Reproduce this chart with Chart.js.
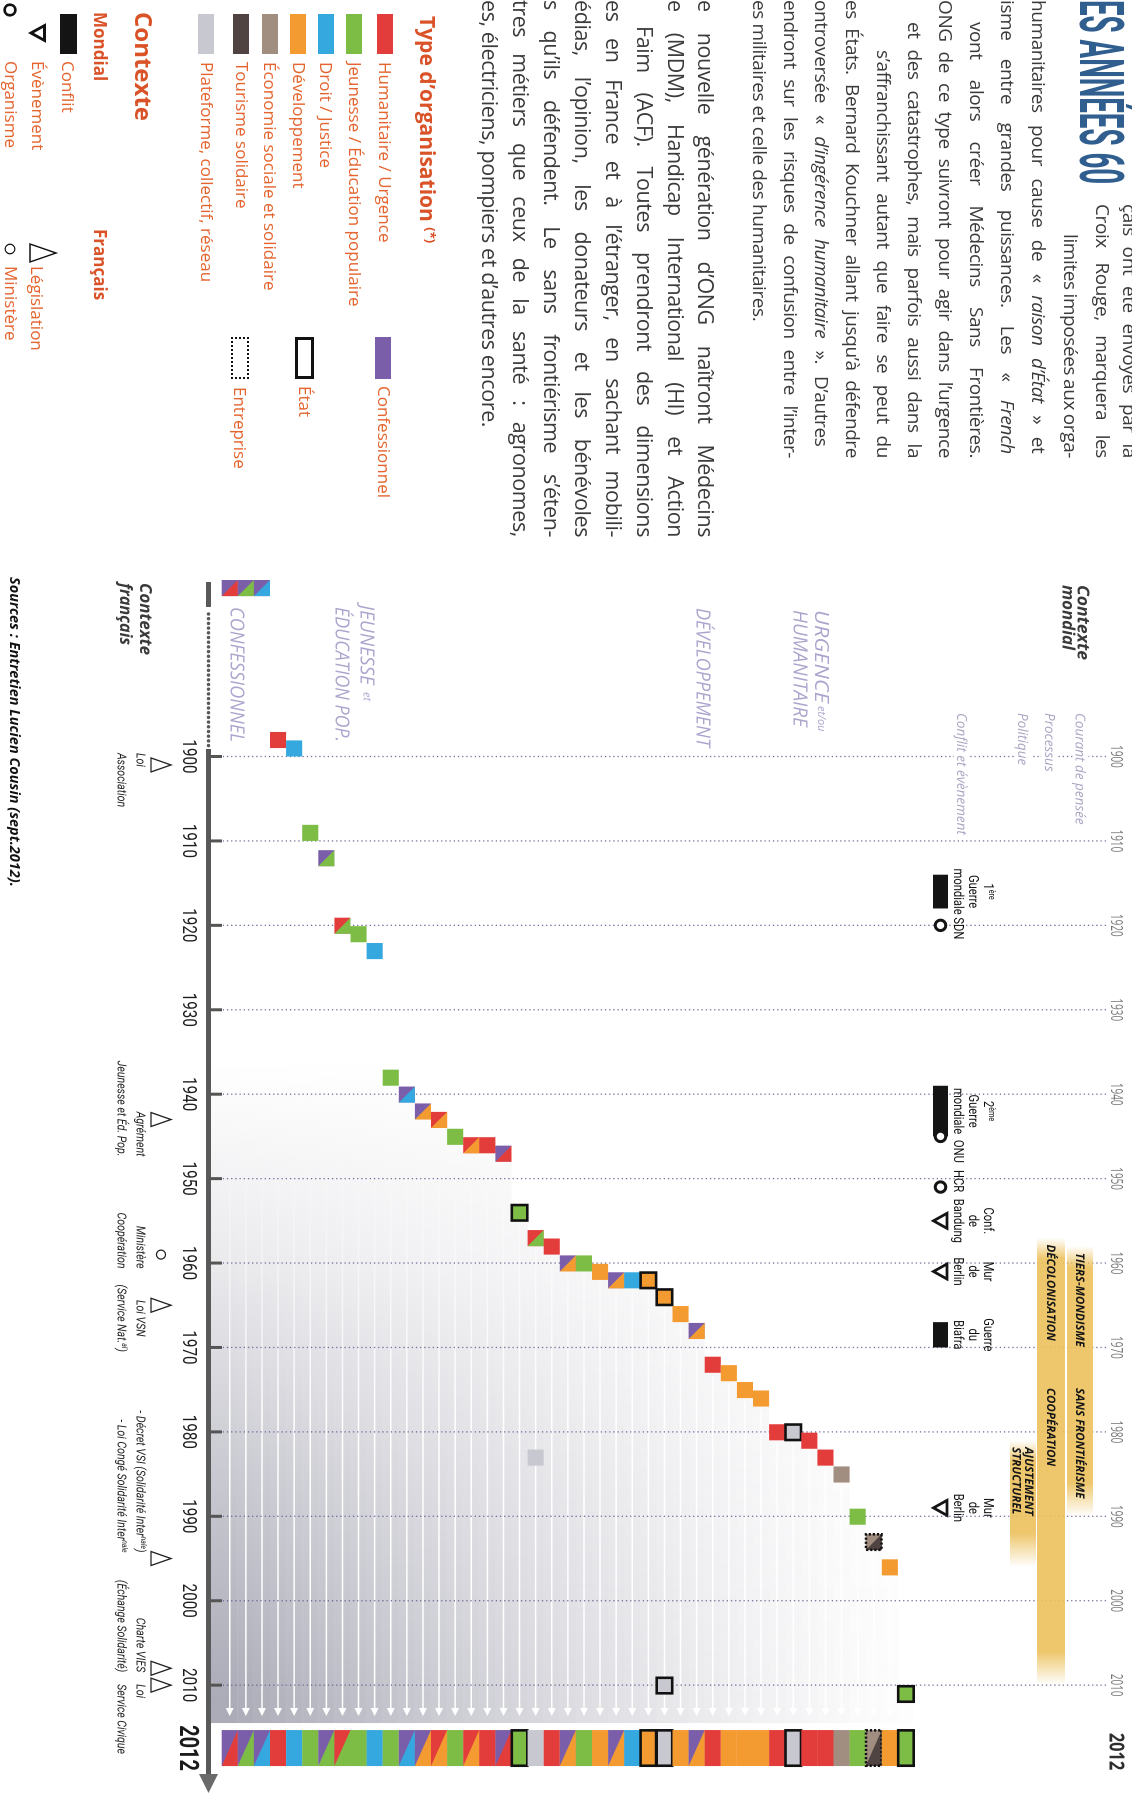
<!DOCTYPE html>
<html lang="fr"><head><meta charset="utf-8"><title>ONG françaises</title>
<script src="https://cdn.jsdelivr.net/npm/chart.js"></script>
<style>
html,body{margin:0;padding:0;background:#fff;}
body{width:1132px;height:1793px;overflow:hidden;position:relative;}
#page{position:absolute;left:0;top:0;width:1793px;height:1132px;transform-origin:0 0;transform:translate(1132px,0) rotate(90deg);background:#fff;overflow:hidden;font-family:"Open Sans",sans-serif;}
#chart{position:absolute;left:0;top:0;width:1793px;height:1132px;}
#layer{position:absolute;left:0;top:0;width:1793px;height:1132px;}
#layer div{position:absolute;white-space:nowrap;line-height:1;}
#layer svg{position:absolute;overflow:visible;}
</style></head>
<body><div id="page"><canvas id="chart" width="1793" height="1132"></canvas><div id="layer"></div></div>
<script>
// ================= DATA =================
const decadeTicks = [1900,1910,1920,1930,1940,1950,1960,1970,1980,1990,2000,2010];
const summaryYear = 2012;

// organisations (first three: before 1900), in row order
const orgYears = [1881,1881,1881,1899,1900,1910,1913,1921,1922,1924,1939,1941,1943,1944,1946,1947,1947,1948,1955,1958,1959,1961,1961,1962,1963,1963,1963,1965,1967,1969,1973,1974,1976,1977,1981,1981,1982,1984,1986,1991,1994,1997,2012];
const orgTypeA = ['conf','conf','conf','hum','droit','jeun','conf','hum','jeun','droit','jeun','conf','conf','hum','jeun','hum','hum','conf','jeun','hum','hum','conf','jeun','dev','conf','droit','dev','dev','dev','conf','hum','dev','dev','dev','hum','plat','hum','hum','eco','jeun','eco','dev','jeun'];
const orgTypeB = ['hum','jeun','droit',null,null,null,'jeun','jeun',null,null,null,'droit','dev','dev',null,'dev',null,'hum',null,'jeun',null,'dev',null,null,'dev',null,null,null,null,'dev',null,null,null,null,null,null,null,null,null,null,'tour',null,null];
const orgStatus = ['','','','','','','','','','','','','','','','','','','etat','','','','','','','','etat','etat','','','','','','','','etat','','','','','entreprise','','etat'];

// later changes of type
const changeIndex = [19, 27];
const changeYears = [1984, 2011];
const changeType = ['plat', 'plat'];
const changeStatus = ['', 'etat'];

// world context
const conflictLabels = ['1^ère^|Guerre|mondiale', '2^ème^|Guerre|mondiale', 'Guerre|du|Biafra'];
const conflictStart = [1914, 1939, 1967];
const conflictEnd = [1918, 1945, 1970];
const organismLabels = ['SDN', 'ONU', 'HCR'];
const organismYears = [1920, 1945, 1951];
const eventLabels = ['Conf.|de|Bandung', 'Mur|de|Berlin', 'Mur|de|Berlin'];
const eventYears = [1955, 1961, 1989];

const courantNames = ['TIERS-MONDISME', 'SANS FRONTIÉRISME'];
const courantStart = [1958, 1974];
const courantEnd = [1974, 1990];
const processusNames = ['DÉCOLONISATION', 'COOPÉRATION'];
const processusStart = [1957, 1974];
const processusEnd = [1974, 2010];
const politiqueNames = ['AJUSTEMENT|STRUCTUREL'];
const politiqueStart = [1981];
const politiqueEnd = [1996];

// French context
const frLabels = ['Loi|Association', 'Agrément|Jeunesse et Éd. Pop.', 'Ministère|Coopération', 'Loi VSN|(Service Nat.^al^)', '- Décret VSI (Solidarité Inter^nale^)|- Loi Congé Solidarité Inter^nale^', 'Charte VIES|(Échange Solidarité)', 'Loi|Service Civique'];
const frYears = [1901, 1943, 1959, 1965, 1995, 2008, 2010];
const frKinds = ['leg', 'leg', 'min', 'leg', 'leg', 'leg', 'leg'];

// legend
const typeKeys = ['hum','jeun','droit','dev','eco','tour','plat'];
const typeLabels = ['Humanitaire / Urgence','Jeunesse / Éducation populaire','Droit / Justice','Développement','Économie sociale et solidaire','Tourisme solidaire','Plateforme, collectif, réseau'];

// ================= STYLE / LAYOUT =================
const COL = {conf:'#7b5ea9',hum:'#e33d3b',jeun:'#7dbd45',droit:'#35a8df',dev:'#f39b30',eco:'#a28d81',tour:'#4f4441',plat:'#c8c8d0'};
const frAlign = ['left','right','right','center','right','right','left'];
const frDx = [-12, 37, 14, 13, -6, 4, -1];
const orgLabelDx = [3, 15, -6];
const AXIS_Y = 923.5, EVENT_Y = 191.5, FR_Y = 971;
const OS = '"Open Sans"';

function rich(ctx, str, x, y, o) {
  const size = o.size || 13, fam = o.family || 'Roboto', st = o.style || 'normal', wt = o.weight || 'normal';
  const parts = String(str).split('^');
  const fN = `${st} ${wt} ${size}px ${fam}`, fS = `${st} ${wt} ${Math.round(size * 0.62)}px ${fam}`;
  let w = 0;
  const ws = parts.map((p, i) => { ctx.font = i % 2 ? fS : fN; const m = ctx.measureText(p).width; w += m; return m; });
  let sx = o.sx || 1; if (o.fit) sx = o.fit / w;
  ctx.save(); ctx.translate(x, y); ctx.scale(sx, 1);
  let cx = o.align === 'center' ? -w / 2 : o.align === 'right' ? -w : 0;
  ctx.fillStyle = o.color || '#111'; ctx.textAlign = 'left'; ctx.textBaseline = 'alphabetic';
  parts.forEach((p, i) => { ctx.font = i % 2 ? fS : fN; ctx.fillText(p, cx, i % 2 ? -size * 0.36 : 0); cx += ws[i]; });
  ctx.restore();
  return w * sx;
}

function square(ctx, x0, y0, x1, y1, a, b, status) {
  ctx.fillStyle = COL[a]; ctx.fillRect(x0, y0, x1 - x0, y1 - y0);
  if (b) { ctx.fillStyle = COL[b]; ctx.beginPath(); ctx.moveTo(x0, y0); ctx.lineTo(x1, y0); ctx.lineTo(x1, y1); ctx.closePath(); ctx.fill(); }
  if (status) {
    ctx.save(); ctx.strokeStyle = '#111'; ctx.lineWidth = 2.6;
    if (status === 'entreprise') ctx.setLineDash([2.2, 1.9]);
    ctx.strokeRect(x0 + 0.3, y0 + 0.3, x1 - x0 - 0.6, y1 - y0 - 0.6);
    ctx.restore();
  }
}

const timeline = {
  id: 'timeline',
  beforeDatasetsDraw(chart) {
    const ctx = chart.ctx, xs = chart.scales.x, ys = chart.scales.y;
    const px = v => xs.getPixelForValue(v), py = v => ys.getPixelForValue(v);
    const half = Math.abs(py(0) - py(1)) / 2;
    const endX = px(summaryYear);

    // --- grey shading under the staircase ---
    const shadeEnd = endX + 21, g0 = px(1936);
    const fr = v => (px(v) - g0) / (endX - g0);
    orgYears.forEach((yr, i) => {
      const yc = py(i - 3);
      const top = yc - half, bot = i === 0 ? AXIS_Y - 2 : yc + half;
      const a = Math.max(0.02, 0.78 * Math.pow(Math.max(0, 1 - i / 45), 1.35));
      const gr = ctx.createLinearGradient(g0, 0, endX, 0);
      gr.addColorStop(0, 'rgba(148,148,164,0)');
      gr.addColorStop(fr(1960), `rgba(148,148,164,${(a * 0.25).toFixed(3)})`);
      gr.addColorStop(fr(1985), `rgba(148,148,164,${(a * 0.65).toFixed(3)})`);
      gr.addColorStop(1, `rgba(148,148,164,${a.toFixed(3)})`);
      ctx.fillStyle = gr;
      const s = px(yr);
      ctx.fillRect(s, top, shadeEnd - s, bot - top);
    });
    // white arrows (fading in)
    const tip = endX + 14;
    const wg = ctx.createLinearGradient(px(1945), 0, px(1978), 0);
    wg.addColorStop(0, 'rgba(255,255,255,0)');
    wg.addColorStop(1, 'rgba(255,255,255,1)');
    ctx.save(); ctx.strokeStyle = wg; ctx.fillStyle = '#fff'; ctx.lineWidth = 1.5;
    orgYears.forEach((yr, i) => {
      const yc = py(i - 3), s = px(yr) + 3;
      if (tip - s < 20) return;
      ctx.beginPath(); ctx.moveTo(s, yc); ctx.lineTo(tip - 6, yc); ctx.stroke();
      ctx.beginPath(); ctx.moveTo(tip, yc); ctx.lineTo(tip - 8, yc - 4); ctx.lineTo(tip - 8, yc + 4); ctx.closePath(); ctx.fill();
    });
    ctx.restore();

    // --- dotted grid ---
    ctx.save(); ctx.strokeStyle = 'rgba(100,95,145,0.9)'; ctx.lineWidth = 1.3; ctx.setLineDash([1.3, 2.9]);
    decadeTicks.forEach(d => { const x = px(d); ctx.beginPath(); ctx.moveTo(x, 26); ctx.lineTo(x, 909); ctx.stroke(); });
    ctx.restore();

    // --- bands (courants, processus, politique) ---
    function band(names, starts, ends, y0, y1) {
      const S = Math.min(...starts), E = Math.max(...ends), xS = px(S), xE = px(E);
      const gr = ctx.createLinearGradient(xS, 0, xE, 0);
      gr.addColorStop(0, 'rgba(236,193,92,0)');
      gr.addColorStop((px(S + 2.5) - xS) / (xE - xS), 'rgba(236,193,92,0.9)');
      gr.addColorStop((px(E - 4) - xS) / (xE - xS), 'rgba(236,193,92,0.9)');
      gr.addColorStop(1, 'rgba(236,193,92,0)');
      ctx.fillStyle = gr; ctx.fillRect(xS, y0, xE - xS, y1 - y0);
      names.forEach((n, i) => {
        const lines = n.split('|'), yc = (y0 + y1) / 2;
        lines.forEach((ln, j) => {
          const yy = yc + (j - (lines.length - 1) / 2) * 12.5;
          rich(ctx, ln, px(starts[i] + 0.8), yy + 4.2, {size: 11.5, family: OS, style: 'italic', weight: 'bold', color: '#161616'});
        });
      });
    }
    band(courantNames, courantStart, courantEnd, 39, 65);
    band(processusNames, processusStart, processusEnd, 67, 95);
    band(politiqueNames, politiqueStart, politiqueEnd, 96, 122);

    // --- axis ---
    ctx.save();
    ctx.strokeStyle = '#595959'; ctx.lineWidth = 5;
    ctx.beginPath(); ctx.moveTo(582, AXIS_Y); ctx.lineTo(607, AXIS_Y); ctx.stroke();
    ctx.fillStyle = '#595959';
    for (let x = 614; x < 746; x += 4.7) { ctx.beginPath(); ctx.arc(x, AXIS_Y, 1.7, 0, Math.PI * 2); ctx.fill(); }
    ctx.beginPath(); ctx.moveTo(749, AXIS_Y); ctx.lineTo(1775, AXIS_Y); ctx.stroke();
    ctx.fillStyle = '#6a6a6a';
    ctx.beginPath(); ctx.moveTo(1774, AXIS_Y - 9.5); ctx.lineTo(1793, AXIS_Y); ctx.lineTo(1774, AXIS_Y + 9.5); ctx.closePath(); ctx.fill();
    ctx.strokeStyle = '#555'; ctx.lineWidth = 3;
    decadeTicks.forEach(d => { const x = px(d); ctx.beginPath(); ctx.moveTo(x, 910); ctx.lineTo(x, 922); ctx.stroke(); });
    ctx.restore();
    decadeTicks.forEach(d => {
      rich(ctx, String(d), px(d), 949, {size: 19, family: 'Roboto', sx: 0.8, align: 'center', color: '#1d1d1d'});
      rich(ctx, String(d), px(d), 21, {size: 16, family: OS, sx: 0.62, align: 'center', color: '#777'});
    });
    rich(ctx, String(summaryYear), endX + 46, 952, {size: 27, family: 'Roboto', weight: 'bold', sx: 0.74, align: 'center', color: '#1a1a1a'});
    rich(ctx, String(summaryYear), endX + 49.5, 22.5, {size: 21, family: OS, weight: 'bold', sx: 0.78, align: 'center', color: '#2e2e2e'});

    // --- context row labels ---
    const subC = '#a8a4c2';
    [['Courant de pensée', 51.5], ['Processus', 82], ['Politique', 109], ['Conflit et évènement', 170]].forEach(([t, y]) => {
      ctx.font = `italic 13.5px ${OS}`; const w = ctx.measureText(t).width;
      ctx.fillStyle = '#fff'; ctx.fillRect(711, y - 8, w + 4, 16);
      rich(ctx, t, 713, y + 4.8, {size: 13.5, family: OS, style: 'italic', color: subC});
    });
    rich(ctx, 'Contexte', 585, 54.5, {size: 17, family: OS, style: 'italic', weight: 'bold', fit: 75, color: '#3a3a3a'});
    rich(ctx, 'mondial', 585, 69.5, {size: 17, family: OS, style: 'italic', weight: 'bold', fit: 65, color: '#3a3a3a'});
    rich(ctx, 'Contexte', 583, 992, {size: 17, family: OS, style: 'italic', weight: 'bold', fit: 72, color: '#3a3a3a'});
    rich(ctx, 'français', 583, 1012, {size: 17, family: OS, style: 'italic', weight: 'bold', fit: 62, color: '#3a3a3a'});

    // category labels
    const catC = '#aaa5cd';
    const cat = (t, x, yc, w) => rich(ctx, t, x, yc + 6.8, {size: 19, family: OS, style: 'italic', color: catC, fit: w});
    cat('URGENCE', 610, 310, 93); rich(ctx, 'et/ou', 706, 314, {size: 11, family: OS, style: 'italic', color: catC});
    cat('HUMANITAIRE', 610, 331.5, 117);
    cat('DÉVELOPPEMENT', 608, 428.5, 139);
    cat('JEUNESSE', 605, 764.5, 80); rich(ctx, 'et', 692, 768.5, {size: 11, family: OS, style: 'italic', color: catC});
    cat('ÉDUCATION POP.', 607, 789.5, 135);
    cat('CONFESSIONNEL', 607, 894.5, 135);

    // --- organisations: staircase ---
    orgYears.forEach((yr, i) => {
      const yc = py(i - 3), x1 = px(yr);
      square(ctx, x1 - 2 * half, yc - half, x1, yc + half, orgTypeA[i], orgTypeB[i], orgStatus[i]);
    });
    changeIndex.forEach((idx, j) => {
      const yc = py(idx - 3), x1 = px(changeYears[j]);
      square(ctx, x1 - 2 * half, yc - half, x1, yc + half, changeType[j], null, changeStatus[j]);
    });
    // --- summary column (2012) ---
    orgYears.forEach((yr, i) => {
      const yc = py(i - 3);
      const c = changeIndex.indexOf(i);
      const a = c >= 0 ? changeType[c] : orgTypeA[i];
      const b = c >= 0 ? null : orgTypeB[i];
      const st = c >= 0 ? changeStatus[c] : orgStatus[i];
      square(ctx, endX + 28, yc - half, endX + 64, yc + half, a, b, st);
    });

    // --- world events ---
    ctx.save();
    const lab = (str, x) => {
      const lines = str.split('|');
      lines.forEach((ln, j) => rich(ctx, ln, x, 178 - (lines.length - 1 - j) * 15, {size: 14, family: 'Roboto', sx: 0.8, align: 'center', color: '#111'}));
    };
    conflictStart.forEach((s, i) => {
      ctx.fillStyle = '#141414'; ctx.fillRect(px(s), EVENT_Y - 7.5, px(conflictEnd[i]) - px(s), 15);
      lab(conflictLabels[i], (px(s) + px(conflictEnd[i])) / 2);
    });
    organismYears.forEach((yr, i) => {
      ctx.beginPath(); ctx.arc(px(yr), EVENT_Y, 5.2, 0, Math.PI * 2);
      ctx.fillStyle = '#fff'; ctx.fill(); ctx.lineWidth = 3; ctx.strokeStyle = '#141414'; ctx.stroke();
      lab(organismLabels[i], px(yr) + orgLabelDx[i]);
    });
    eventYears.forEach((yr, i) => {
      const x = px(yr);
      ctx.beginPath(); ctx.moveTo(x - 7.5, EVENT_Y - 6.5); ctx.lineTo(x + 7.5, EVENT_Y - 6.5); ctx.lineTo(x, EVENT_Y + 7); ctx.closePath();
      ctx.fillStyle = '#fff'; ctx.fill(); ctx.lineWidth = 2.8; ctx.lineJoin = 'miter'; ctx.strokeStyle = '#141414'; ctx.stroke();
      lab(eventLabels[i], x);
    });
    ctx.restore();

    // --- French events ---
    ctx.save(); ctx.strokeStyle = '#222'; ctx.lineWidth = 1.3;
    frYears.forEach((yr, i) => {
      const x = px(yr);
      ctx.beginPath();
      if (frKinds[i] === 'min') ctx.arc(x, FR_Y, 4.5, 0, Math.PI * 2);
      else { ctx.moveTo(x, FR_Y - 10); ctx.lineTo(x + 7, FR_Y + 10); ctx.lineTo(x - 7, FR_Y + 10); ctx.closePath(); }
      ctx.stroke();
      frLabels[i].split('|').forEach((ln, j) => {
        rich(ctx, ln, x + frDx[i], 995.5 + j * 19, {size: 12.5, family: 'Roboto', style: 'italic', sx: 0.85, align: frAlign[i], color: '#222'});
      });
    });
    ctx.restore();
  }
};

new Chart(document.getElementById('chart'), {
  type: 'scatter',
  data: {datasets: [{label: 'Organisations', data: orgYears.map((y, i) => ({x: y, y: i - 3})), pointRadius: 0, pointHoverRadius: 0}]},
  options: {
    responsive: false, animation: false, devicePixelRatio: 2, events: [],
    layout: {padding: {left: 575, right: 4, top: 0, bottom: 0}},
    scales: {
      x: {type: 'linear', min: 1878.5, max: 2022.3, display: false},
      y: {type: 'linear', min: -17.27, max: 53.04, display: false}
    },
    plugins: {legend: {display: false}, tooltip: {enabled: false}}
  },
  plugins: [timeline]
});

// ================= HTML text: article + legend =================
const layer = document.getElementById('layer');
function div(html, css) { const d = document.createElement('div'); d.style.cssText = css; d.innerHTML = html; layer.appendChild(d); return d; }
function label(html, x, yc, size, css = '') { return div(html, `left:${x}px;top:${(yc - size * 0.55).toFixed(1)}px;font-size:${size}px;${css}`); }
function svg(inner, x, y, w, h) { layer.insertAdjacentHTML('beforeend', `<svg style="left:${x}px;top:${y}px" width="${w}" height="${h}" viewBox="0 0 ${w} ${h}">${inner}</svg>`); }

// heading
const hd = div('ES ANNÉES 60', `left:0;top:0;font-family:"Liberation Sans Narrow",Roboto,sans-serif;font-weight:bold;font-size:62px;color:#2f5e8f;transform-origin:0 0;`);
hd.style.transform = `scaleX(${(184 / hd.offsetWidth).toFixed(3)})`;

// [text, y centre, left, right, font size, justified]
const articleLines = [
  ['çais ont été envoyés par la', 3, 204, 458, 19, true],
  ['Croix Rouge, marquera les', 30, 204, 458, 19, true],
  ['limites imposées aux orga-', 62, 234, 458, 19, true],
  ['humanitaires pour cause de « <i>raison d’État</i> » et', 94, 0, 458, 19, true],
  ['isme entre grandes puissances. Les « <i>French</i>', 125, 0, 458, 19, true],
  ['vont alors créer Médecins Sans Frontières.', 156, 22, 458, 19, true],
  ['ONG de ce type suivront pour agir dans l’urgence', 187, 0, 458, 19, true],
  ['et des catastrophes, mais parfois aussi dans la', 218, 22, 458, 19, true],
  ['s’affranchissant autant que faire se peut du', 249, 50, 458, 19, true],
  ['es États. Bernard Kouchner allant jusqu’à défendre', 280, 0, 458, 19, true],
  ['ontroversée « <i>d’ingérence humanitaire</i> ». D’autres', 311, 0, 458, 19, true],
  ['endront sur les risques de confusion entre l’inter-', 342, 0, 458, 19, true],
  ['es militaires et celle des humanitaires.', 373, 0, 458, 19, false],
  ['e nouvelle génération d’ONG naîtront Médecins', 427, 0, 537, 21.5, true],
  ['e (MDM), Handicap International (HI) et Action', 457, 0, 537, 21.5, true],
  ['Faim (ACF). Toutes prendront des dimensions', 488, 26, 537, 21.5, true],
  ['es en France et à l’étranger, en sachant mobili-', 519, 0, 537, 21.5, true],
  ['édias, l’opinion, les donateurs et les bénévoles', 550, 0, 537, 21.5, true],
  ['s qu’ils défendent. Le sans frontiérisme s’éten-', 581, 0, 537, 21.5, true],
  ['tres métiers que ceux de la santé : agronomes,', 612, 0, 537, 21.5, true],
  ['es, électriciens, pompiers et d’autres encore.', 643, 0, 537, 21.5, false]
];
const LS0 = -0.4;
const mc = document.createElement('canvas').getContext('2d');
articleLines.forEach(([html, yc, l, r, fs, just]) => {
  mc.font = `${fs}px ${OS}`;
  const plain = html.replace(/<[^>]+>/g, '');
  const w = mc.measureText(plain).width + LS0 * plain.length;
  const n = (plain.match(/ /g) || []).length;
  let ws = 0, ls = LS0;
  if (just && n) {
    ws = (r - l - w) / n;
    if (ws < -2) { ls = LS0 + (r - l - w + 2 * n) / plain.length; ws = -2; }
  }
  label(html, l, yc, fs, `color:#3b3b3b;letter-spacing:${ls.toFixed(2)}px;word-spacing:${ws.toFixed(2)}px;`);
});

// legend: organisation types
const LC = '#e4652f', TC = '#da5328';
label('Type d’organisation <span style="font-size:13px;vertical-align:6px">(*)</span>', 16, 705, 21, `font-weight:bold;color:${TC};`);
const legY = [747, 777.5, 806, 833.5, 862, 890.5, 925.5];
typeKeys.forEach((k, i) => {
  div('', `left:14px;top:${legY[i] - 8}px;width:40px;height:16px;background:${COL[k]};`);
  label(typeLabels[i], 62, legY[i], 17, `color:${LC};`);
});
div('', `left:337px;top:741px;width:42px;height:16px;background:${COL.conf};`);
label('Confessionnel', 386, 748.5, 17, `color:${LC};`);
div('', `left:337px;top:818px;width:42px;height:19px;border:3px solid #111;box-sizing:border-box;`);
label('État', 386, 827.5, 17, `color:${LC};`);
div('', `left:337px;top:883px;width:42px;height:18px;border:2.5px dotted #111;box-sizing:border-box;`);
label('Entreprise', 387, 892, 17, `color:${LC};`);

// legend: context
label('Contexte', 12, 989, 24, `font-weight:bold;color:${TC};`);
label('Mondial', 12, 1032, 17, `font-weight:bold;color:${TC};`);
label('Français', 229, 1032, 17, `font-weight:bold;color:${TC};`);
div('', 'left:14px;top:1055px;width:40px;height:17px;background:#141414;');
label('Conflit', 61, 1064, 17, `color:${LC};`);
svg('<polygon points="1.5,1.5 16.5,1.5 9,15" fill="none" stroke="#111" stroke-width="2.8"/>', 24, 1086, 18, 17);
label('Évènement', 61, 1094, 17, `color:${LC};`);
svg('<circle cx="7" cy="7" r="5.3" fill="none" stroke="#111" stroke-width="2.8"/>', 3, 1114.5, 14, 14);
label('Organisme', 61, 1121, 17, `color:${LC};`);
svg('<polygon points="10,1 19,27 1,27" fill="none" stroke="#111" stroke-width="1.4"/>', 243, 1075, 20, 28);
label('Législation', 266, 1095, 17, `color:${LC};`);
svg('<circle cx="6" cy="6" r="4.8" fill="none" stroke="#111" stroke-width="1.3"/>', 243, 1116, 12, 12);
label('Ministère', 266, 1121, 17, `color:${LC};`);

// sources
label('Sources : Entretien Lucien Cousin (sept.2012).', 577, 1118, 14.5, 'font-weight:bold;font-style:italic;color:#111;');
</script></body></html>
